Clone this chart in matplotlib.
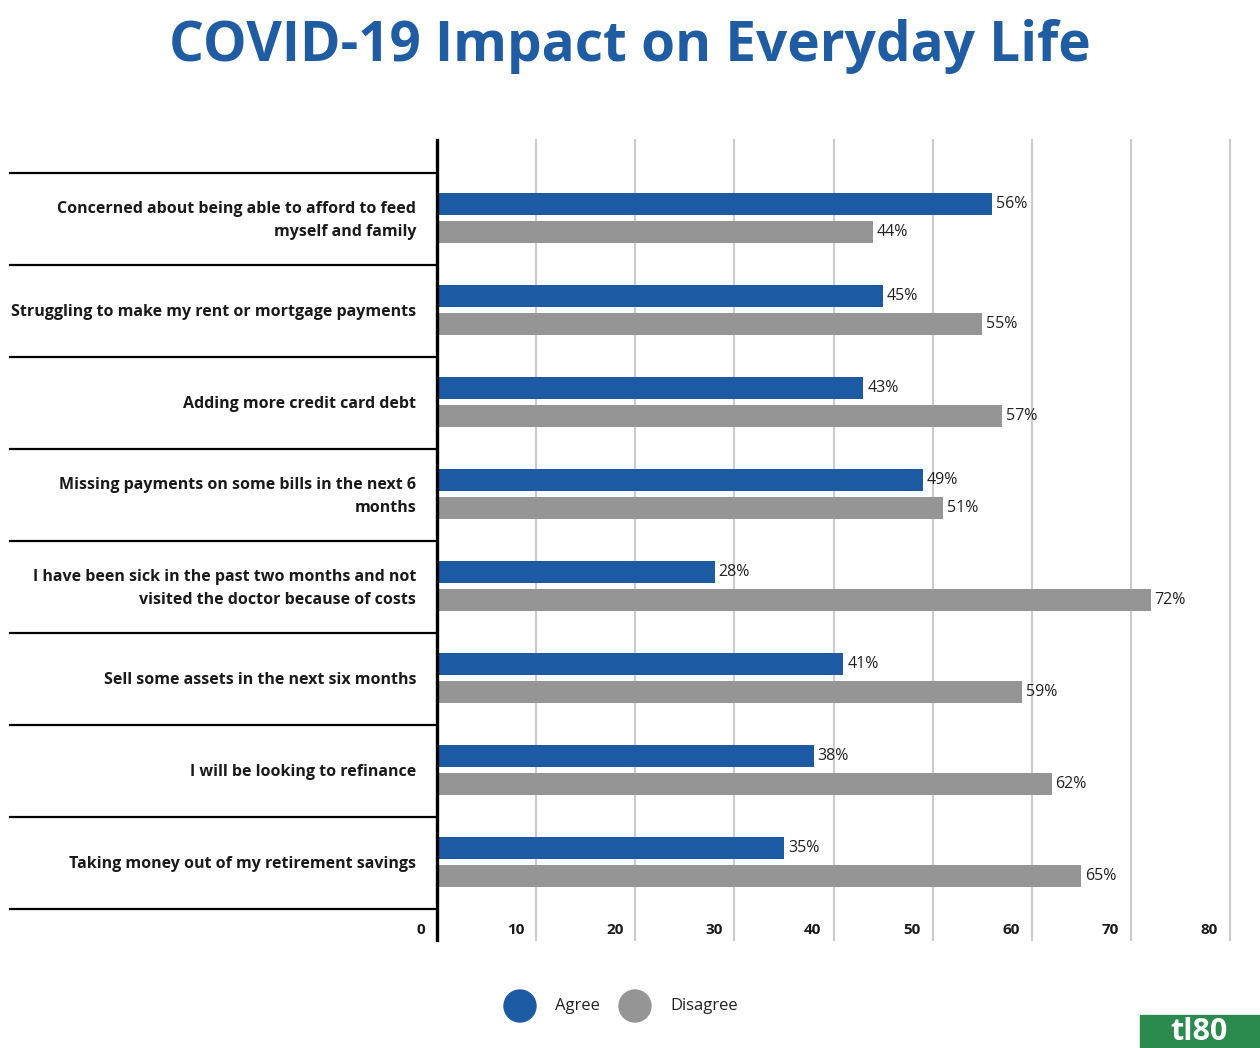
import matplotlib.pyplot as plt
from matplotlib.patches import Ellipse, Rectangle
import matplotlib.transforms as mtransforms

plt.rcParams['font.family'] = ['Open Sans', 'DejaVu Sans']

CATEGORIES = [
    'Concerned about being able to afford to feed\nmyself and family',
    'Struggling to make my rent or mortgage payments',
    'Adding more credit card debt',
    'Missing payments on some bills in the next 6\nmonths',
    'I have been sick in the past two months and not\nvisited the doctor because of costs',
    'Sell some assets in the next six months',
    'I will be looking to refinance',
    'Taking money out of my retirement savings',
]
AGREE = [56, 45, 43, 49, 28, 41, 38, 35]
DISAGREE = [44, 55, 57, 51, 72, 59, 62, 65]
SERIES = ['Agree', 'Disagree']
XTICKS = [0, 10, 20, 30, 40, 50, 60, 70, 80]

BLUE = '#1c5ba3'
GREY = '#959595'
TITLE_BLUE = '#1f5ca1'

fig = plt.figure(figsize=(12.6, 10.48), dpi=100)
ax = fig.add_axes([437 / 1260, 1 - 940 / 1048, 793 / 1260, 800 / 1048])

n = len(CATEGORIES)
ys = list(range(n))
bh = 0.24
ax.barh([y - 0.16 for y in ys], AGREE, height=bh, color=BLUE, zorder=3)
ax.barh([y + 0.145 for y in ys], DISAGREE, height=bh, color=GREY, zorder=3)

for y, a, d in zip(ys, AGREE, DISAGREE):
    ax.text(a + 0.4, y - 0.16, f'{a}%', va='center', ha='left', fontsize=11.5, color='#222222')
    ax.text(d + 0.4, y + 0.145, f'{d}%', va='center', ha='left', fontsize=11.5, color='#222222')

ax.set_xlim(0, 80)
ax.set_ylim(n - 0.5 + 0.337, -0.5 - 0.359)

for x in XTICKS[1:]:
    ax.axvline(x, color='#cccccc', lw=1.5, zorder=1, clip_on=False)
ax.axvline(0, color='black', lw=2.4, zorder=4, clip_on=False)

for s in ax.spines.values():
    s.set_visible(False)
ax.set_xticks([])
ax.set_yticks([])

# separator lines running out to the left
trans = mtransforms.blended_transform_factory(ax.transAxes, ax.transData)
for b in range(n + 1):
    ax.plot([-427 / 793, 0], [b - 0.5, b - 0.5], color='black', lw=1.6,
            transform=trans, clip_on=False, zorder=4)

for y, lab in zip(ys, CATEGORIES):
    ax.text(-21 / 793, y + 0.015, lab, transform=trans, ha='right', va='center',
            fontsize=11.5, fontweight='bold', color='#1a1a1a', linespacing=1.55)

# tick labels under the axis
tick_trans = mtransforms.blended_transform_factory(ax.transData, fig.transFigure)
for x in XTICKS:
    ax.text(x - 1.2, 1 - 929.5 / 1048, str(x), transform=tick_trans, ha='right', va='center',
            fontsize=11, fontweight='bold', color='#1a1a1a')

fig.text(0.5, 1 - 46 / 1048, 'COVID-19 Impact on Everyday Life', ha='center', va='center',
         fontsize=39.5, fontweight='bold', color=TITLE_BLUE)

# legend
for cx, tx, col, lab in [(520, 555, BLUE, SERIES[0]), (635, 670, GREY, SERIES[1])]:
    fig.patches.append(Ellipse((cx / 1260, 1 - 1006 / 1048), 32 / 1260, 32 / 1048, color=col,
                               transform=fig.transFigure))
    fig.text(tx / 1260, 1 - 1006 / 1048, lab, ha='left', va='center', fontsize=12, color='#222222')

# watermark
fig.patches.append(Rectangle((1140 / 1260, 0), 120 / 1260, 33 / 1048, color='#2b8a4e',
                             transform=fig.transFigure))
fig.text(1199 / 1260, 16 / 1048, 'tl80', ha='center', va='center', fontsize=22,
         fontweight='bold', color='white')

fig.savefig('out.png', dpi=100)
